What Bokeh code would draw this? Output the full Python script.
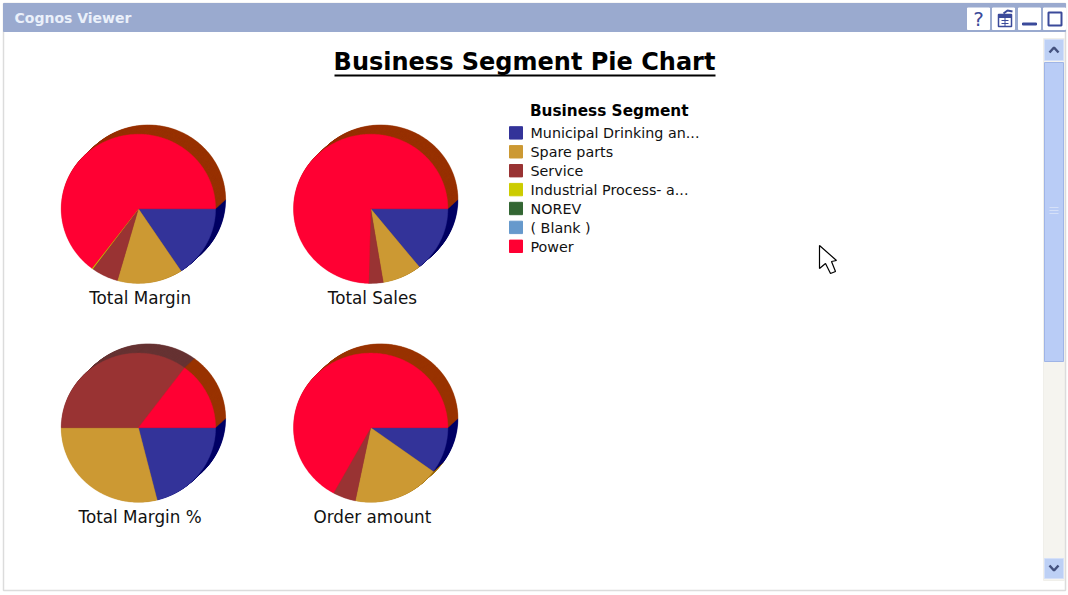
from math import cos, sin, pi
from bokeh.plotting import figure
from bokeh.models import Range1d
from bokeh.core.properties import value
from bokeh.embed import file_html
from bokeh.resources import INLINE

segments = ["Municipal Drinking an...", "Spare parts", "Service", "Industrial Process- a...", "NOREV", "( Blank )", "Power"]
colors = ["#333399", "#CC9933", "#993333", "#CCCC00", "#336633", "#6699CC", "#FF0033"]
side_colors = ["#000066", "#996600", "#663333", "#999900", "#003300", "#336699", "#993300"]

measures = ["Total Margin", "Total Sales", "Total Margin %", "Order amount"]
total_margin = [15.7, 13.7, 5.7, 0.2, 0.0, 0.0, 64.7]
total_sales = [14.2, 8.2, 3.0, 0.0, 0.0, 0.0, 74.6]
total_margin_pct = [21.1, 28.9, 35.2, 0.0, 0.0, 0.0, 14.8]
order_amount = [10.0, 18.2, 4.8, 0.0, 0.0, 0.0, 67.0]
all_values = [total_margin, total_sales, total_margin_pct, order_amount]

FONT = value("DejaVu Sans")
W, H = 1068, 595
p = figure(width=W, height=H, x_range=Range1d(0, W), y_range=Range1d(H, 0),
           output_backend="svg", toolbar_location=None, min_border=0, outline_line_color=None,
           background_fill_color="white", border_fill_color="white")
p.axis.visible = False
p.grid.visible = False


def box(x0, y0, x1, y1, fill, line=None, width=1):
    p.quad(left=[x0], right=[x1], top=[y0], bottom=[y1], fill_color=fill,
           line_color=line if line else fill, line_width=width)


def label(x, y, s, size, color="#111111", bold=False, align="left"):
    p.text(x=[x], y=[y], text=[s], text_font=FONT, text_font_size=size, text_color=color,
           text_font_style="bold" if bold else "normal", text_align=align, text_baseline="middle")


# viewer frame
p.line([3, 3, 1065, 1065, 3], [3, 590, 590, 3, 3], line_color="#dcdcdc", line_width=1.5)
box(3, 3, 1065, 31, "#9AAACF")
label(14, 17.5, "Cognos Viewer", "14px", "#EAF0FA", True)
for x0 in (967, 992, 1018, 1043):
    box(x0, 7.5, x0 + 22, 29, "white")
label(978, 18, "?", "20px", "#3B4A9A", False, "center")
box(998, 14, 1011, 26, "#FFFFFF", "#3B4A9A", 1.5)
box(998, 14, 1011, 17, "#3B4A9A")
p.multi_line([[1001, 1008], [1001, 1008], [1004.5, 1004.5]], [[20, 20], [23, 23], [17, 26]],
             line_color="#3B4A9A", line_width=1)
p.line([1003, 1007, 1012], [13, 10, 11], line_color="#3B4A9A", line_width=2)
box(1022, 22.5, 1036, 24.5, "#3B4A9A")
box(1048, 12, 1061, 25, "#FFFFFF", "#3B4A9A", 2)

# scrollbar
box(1043, 38, 1064, 580, "#F5F4EF", "#F0EFEA")
box(1044, 39, 1063, 60, "#BDD0F5", "#D5E0F8")
box(1044, 62, 1063, 361, "#B9CCF6", "#9FB4E6")
box(1044, 558, 1063, 578, "#BDD0F5", "#D5E0F8")
p.line([1049, 1053.5, 1058], [52, 47, 52], line_color="#44527F", line_width=2.5)
p.line([1049, 1053.5, 1058], [565, 570, 565], line_color="#44527F", line_width=2.5)
p.multi_line([[1049, 1058]] * 3, [[207, 207], [210, 210], [213, 213]], line_color="#D5E0F8", line_width=1)

# title
label(524, 61.7, "Business Segment Pie Chart", "24px", "#000000", True, "center")
p.line([334, 715], [75, 75], line_color="#000000", line_width=2)

# pies
centers = [(137.9, 208.3), (370.2, 208.3), (137.9, 427.2), (370.2, 427.2)]
RX, RY = 77.2, 74.6
DX, DY = 10.0, 9.2
LAYERS = 20


def wedges(cx, cy, vals):
    total = sum(vals)
    start = 0.0
    xs, ys, idx = [], [], []
    for i, v in enumerate(vals):
        if v <= 0:
            continue
        a0, a1 = start, start + v / total * 2 * pi
        n = max(2, int((a1 - a0) * 60))
        angles = [a0 + (a1 - a0) * j / n for j in range(n + 1)]
        xs.append([cx] + [cx + RX * cos(a) for a in angles])
        ys.append([cy] + [cy + RY * sin(a) for a in angles])
        idx.append(i)
        start = a1
    return xs, ys, idx


for (cx, cy), vals, name in zip(centers, all_values, measures):
    for k in range(LAYERS, 0, -1):
        f = k / LAYERS
        xs, ys, idx = wedges(cx + DX * f, cy - DY * f, vals)
        c = [side_colors[i] for i in idx]
        p.patches(xs, ys, fill_color=c, line_color=c, line_width=0.5)
    xs, ys, idx = wedges(cx, cy, vals)
    c = [colors[i] for i in idx]
    p.patches(xs, ys, fill_color=c, line_color=c, line_width=0.4)
    label(cx + 1.7, cy + 89, name, "16.8px", "#111111", False, "center")

# legend
label(608.7, 110.5, "Business Segment", "15.3px", "#000000", True, "center")
for i, (s, c) in enumerate(zip(segments, colors)):
    y = 132.4 + i * 18.9
    box(509, y - 6.2, 522, y + 6.2, c)
    label(530, y + 0.3, s, "14.3px", "#111111")

# mouse pointer
p.patch([819, 819, 825, 830, 835, 831, 836], [245, 268, 263, 273, 271, 261, 260],
        fill_color="white", line_color="#000000", line_width=1.2)

open("out.html", "w").write(file_html(p, INLINE))
